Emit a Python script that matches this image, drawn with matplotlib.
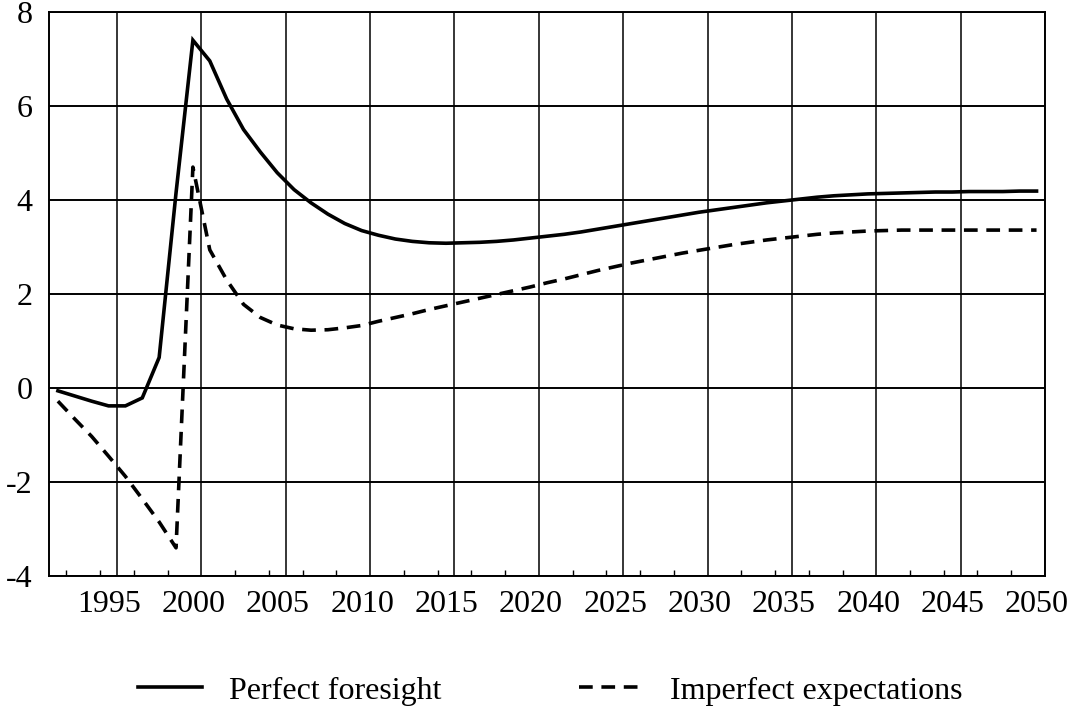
import numpy as np
import matplotlib
matplotlib.use('Agg')
import matplotlib.pyplot as plt
import matplotlib.transforms as mtransforms

# data (annual, plotted mid-year)
years = list(range(1992, 2051))

perfect_foresight = [
    -0.06, -0.17, -0.28, -0.38, -0.38, -0.21, 0.65, 4.15, 7.40, 6.96,
    6.15, 5.50, 5.02, 4.58, 4.22, 3.94, 3.70, 3.50, 3.35, 3.25,
    3.17, 3.12, 3.09, 3.08, 3.09, 3.10, 3.12, 3.15, 3.19, 3.23,
    3.27, 3.32, 3.38, 3.44, 3.50, 3.56, 3.62, 3.68, 3.74, 3.79,
    3.84, 3.89, 3.94, 3.98, 4.02, 4.06, 4.09, 4.11, 4.13, 4.14,
    4.15, 4.16, 4.17, 4.17, 4.18, 4.18, 4.18, 4.19, 4.19,
]

imperfect_expectations = [
    -0.28, -0.66, -1.03, -1.45, -1.88, -2.36, -2.85, -3.40, 4.70, 2.94,
    2.30, 1.78, 1.50, 1.34, 1.26, 1.23, 1.24, 1.28, 1.33, 1.42,
    1.50, 1.58, 1.67, 1.75, 1.83, 1.91, 1.99, 2.07, 2.15, 2.24,
    2.32, 2.41, 2.50, 2.58, 2.66, 2.73, 2.80, 2.87, 2.93, 2.99,
    3.05, 3.10, 3.15, 3.19, 3.23, 3.27, 3.30, 3.32, 3.34, 3.35,
    3.36, 3.36, 3.36, 3.36, 3.36, 3.36, 3.36, 3.36, 3.36,
]

x_ticks = list(range(1995, 2051, 5))
y_ticks = [-4, -2, 0, 2, 4, 6, 8]

plt.rcParams['font.family'] = ['Liberation Serif', 'DejaVu Serif']

fig = plt.figure(figsize=(10.71, 7.10), dpi=100)
ax = fig.add_axes([0.0462, 0.1887, 0.9295, 0.7944])

x = np.array(years) - 0.5
ax.plot(x, perfect_foresight, color='black', lw=2.6, solid_joinstyle='miter',
        label='Perfect foresight')
ax.plot(x, imperfect_expectations, color='black', lw=2.6, dashes=(3.8, 2.4),
        label='Imperfect expectations')

ax.set_xlim(1991, 2050)
ax.set_ylim(-4, 8)
ax.set_xticks(x_ticks)
ax.set_xticks(range(1992, 2051, 2), minor=True)
ax.set_yticks(y_ticks)
ax.set_yticklabels([str(v) for v in y_ticks])

for v in y_ticks:
    ax.axhline(v, color='black', lw=1.4, zorder=0)
for v in x_ticks:
    ax.axvline(v, color='black', lw=1.1, zorder=0)

ax.tick_params(axis='x', which='major', length=0, pad=10, labelsize=23)
ax.tick_params(axis='x', which='minor', direction='in', length=4.5, width=1.0)
ax.tick_params(axis='y', which='major', length=0, pad=12, labelsize=23)
for s in ax.spines.values():
    s.set_linewidth(1.4)

shift = mtransforms.ScaledTranslation(-8 / 100, 0, fig.dpi_scale_trans)
for lab in ax.get_xticklabels():
    lab.set_transform(lab.get_transform() + shift)

fig.legend(loc='center', bbox_to_anchor=(0.5137, 0.027), ncol=2, frameon=False,
           fontsize=23, handlelength=2.0, handletextpad=0.85, columnspacing=4.3)

fig.savefig('out.png', dpi=100)
